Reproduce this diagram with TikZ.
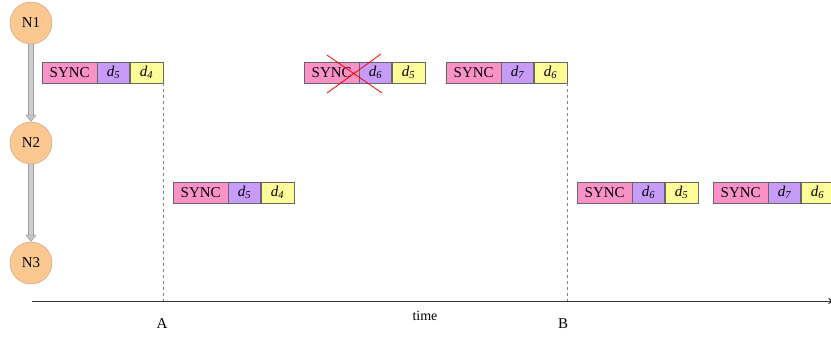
\documentclass[tikz,border=0pt]{standalone}
\usepackage{fontspec}
\setmainfont{Liberation Serif}
\usetikzlibrary{positioning,arrows.meta}

\definecolor{nodeorange}{HTML}{FCC892}
\definecolor{nodeedge}{HTML}{C49A78}
\definecolor{syncpink}{HTML}{FA92C8}
\definecolor{dpurple}{HTML}{C69CF8}
\definecolor{dyellow}{HTML}{FCFC98}

\begin{document}
\begin{tikzpicture}[
				x = 1pt, y = -1pt, % picture units are pixels, y downwards
				node distance = 0pt,
				font = \fontsize{15}{17}\selectfont
				]

				\tikzstyle{station}=[circle, draw = nodeedge, fill = nodeorange, minimum size = 42pt, inner sep = 0pt]
				\tikzstyle{field}=[rectangle, draw = black!60, minimum height = 21pt, inner sep = 0pt]
				\tikzstyle{sync}=[field, fill = syncpink, minimum width = 55pt]
				\tikzstyle{dnew}=[field, fill = dpurple, minimum width = 32pt]
				\tikzstyle{dold}=[field, fill = dyellow, minimum width = 33pt]
				\tikzstyle{hop}=[
				preaction = {draw = gray!75, line width = 6pt, shorten > = 5pt, -},
				line width = 4pt, draw = gray!40,
				-{Triangle[width = 11pt, length = 7pt, fill = gray!45, color = gray!75, line width = 0.6pt]}
				]
				\tikzstyle{timemark}=[dashed, draw = gray, thin]

				\useasboundingbox (0,0) rectangle (831,337);
				\clip (0,0) rectangle (831,337);

				% stations
				\node[station] (n1) at (31,23) {N1};
				\node[station] (n2) at (31,143) {N2};
				\node[station] (n3) at (31,263) {N3};

				\path
				(n1) edge [hop] (n2)
				(n2) edge [hop] (n3)
				;

				% packets sent by N1
				\node[sync, anchor = west] (s1) at (42,72.5) {SYNC};
				\node[dnew] (a1) [right = of s1] {\textit{d\textsubscript{5}}};
				\node[dold] (b1) [right = of a1] {\textit{d\textsubscript{4}}};

				\node[sync, anchor = west] (s2) at (304,72.5) {SYNC};
				\node[dnew] (a2) [right = of s2] {\textit{d\textsubscript{6}}};
				\node[dold] (b2) [right = of a2] {\textit{d\textsubscript{5}}};

				\node[sync, anchor = west] (s3) at (446,72.5) {SYNC};
				\node[dnew] (a3) [right = of s3] {\textit{d\textsubscript{7}}};
				\node[dold] (b3) [right = of a3] {\textit{d\textsubscript{6}}};

				% lost packet
				\draw[red, thick] (327,55) -- (382,93) (327,93) -- (381,54);

				% packets sent by N2
				\node[sync, anchor = west] (s4) at (173,192.5) {SYNC};
				\node[dnew] (a4) [right = of s4] {\textit{d\textsubscript{5}}};
				\node[dold] (b4) [right = of a4] {\textit{d\textsubscript{4}}};

				\node[sync, anchor = west] (s5) at (577,192.5) {SYNC};
				\node[dnew] (a5) [right = of s5] {\textit{d\textsubscript{6}}};
				\node[dold] (b5) [right = of a5] {\textit{d\textsubscript{5}}};

				\node[sync, anchor = west] (s6) at (713,192.5) {SYNC};
				\node[dnew] (a6) [right = of s6] {\textit{d\textsubscript{7}}};
				\node[dold] (b6) [right = of a6] {\textit{d\textsubscript{6}}};

				% time axis
				\coordinate (t0) at (32,301);
				\coordinate (t1) at (836,301);
				\draw[semithick, draw = black!80, -{Stealth[length = 8pt]}] (t0) -- (t1);

				\coordinate (ta) at (b1.south east |- t0);
				\coordinate (tb) at (b3.south east |- t0);
				\draw[timemark] (b1.south east) -- (ta);
				\draw[timemark] (b3.south east) -- (tb);

				\node (la) at (162,324) {A};
				\node (lb) at (563,324) {B};
				\node[font = \fontsize{14}{16}\selectfont] (lt) at (425,316) {time};
			\end{tikzpicture}
\end{document}
